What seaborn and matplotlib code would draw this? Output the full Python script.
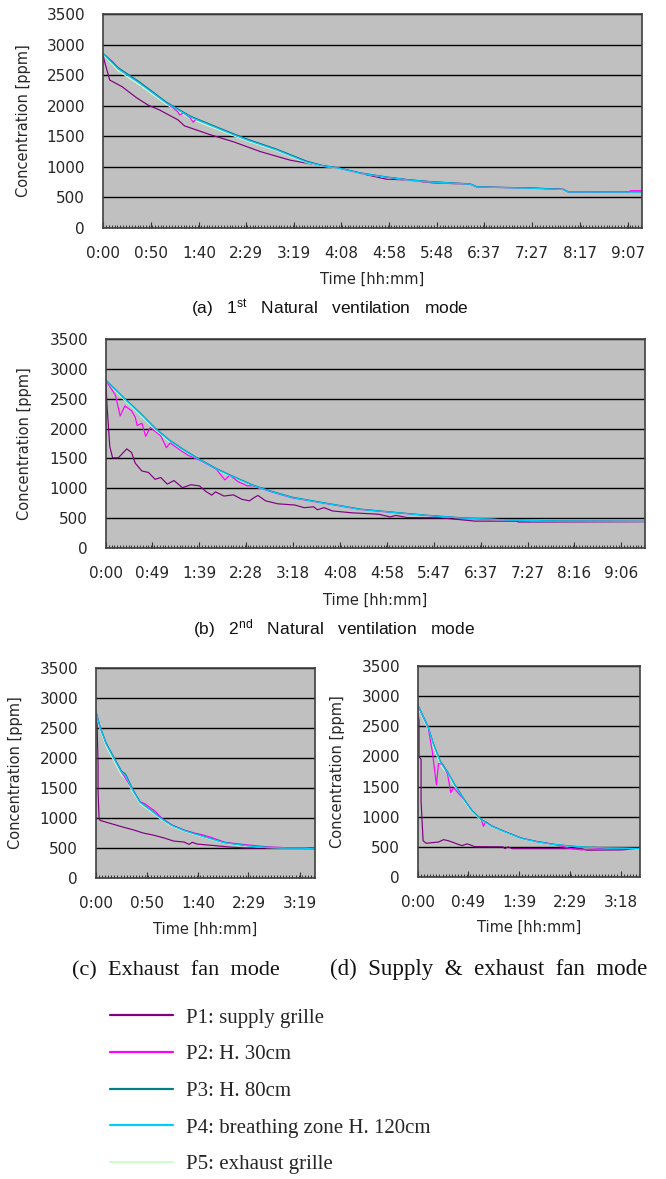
import matplotlib
matplotlib.use("Agg")
import matplotlib.pyplot as plt
import seaborn as sns
from matplotlib.ticker import MultipleLocator

W, H = 666, 1179

# ---- series names / colours
names = ["P1: supply grille", "P2: H. 30cm", "P3: H. 80cm",
         "P4: breathing zone H. 120cm", "P5: exhaust grille"]
colors = ["#800080", "#ff00ff", "#008080", "#00ccff", "#ccffcc"]
zorders = [2.1, 2.3, 2.4, 2.5, 2.2]

# ---- x tick labels (minutes -> hh:mm)
a_ticks = [0, 50, 100, 149, 199, 248, 298, 348, 397, 447, 497, 547]
a_labels = ["0:00", "0:50", "1:40", "2:29", "3:19", "4:08", "4:58", "5:48", "6:37", "7:27", "8:17", "9:07"]
b_ticks = [0, 49, 99, 148, 198, 248, 298, 347, 397, 447, 496, 546]
b_labels = ["0:00", "0:49", "1:39", "2:28", "3:18", "4:08", "4:58", "5:47", "6:37", "7:27", "8:16", "9:06"]
c_ticks = [0, 50, 100, 149, 199]
c_labels = ["0:00", "0:50", "1:40", "2:29", "3:19"]
d_ticks = [0, 49, 99, 149, 198]
d_labels = ["0:00", "0:49", "1:39", "2:29", "3:18"]

# ---- (a) 1st natural ventilation
a_t1 = [0, 2, 7, 20, 35, 47, 59, 78, 85, 113, 136, 164, 195, 216, 246, 268, 295, 317, 343, 383, 390, 445, 480, 485, 546, 562]
a_p1 = [2830, 2700, 2420, 2310, 2130, 2010, 1930, 1770, 1670, 1520, 1410, 1250, 1110, 1050, 975, 895, 800, 785, 740, 715, 670, 650, 630, 590, 590, 590]
a_t2 = [0, 10, 16, 38, 66, 78, 80, 84, 91, 94, 97, 129, 150, 181, 212, 228, 246, 268, 295, 317, 343, 383, 390, 445, 480, 485, 548, 550, 562]
a_p2 = [2850, 2720, 2610, 2380, 2050, 1900, 1850, 1880, 1800, 1730, 1780, 1580, 1450, 1280, 1090, 1020, 980, 900, 830, 790, 755, 720, 670, 655, 630, 590, 590, 610, 610]
a_t = [0, 16, 38, 66, 91, 129, 150, 181, 212, 228, 246, 268, 295, 317, 343, 383, 390, 445, 480, 485, 562]
a_p3 = [2860, 2620, 2390, 2060, 1830, 1585, 1455, 1290, 1095, 1025, 982, 902, 836, 792, 756, 720, 672, 656, 632, 592, 592]
a_p4 = [2850, 2600, 2370, 2045, 1815, 1570, 1440, 1276, 1080, 1020, 978, 898, 832, 788, 752, 718, 670, 652, 628, 590, 588]
a_p5 = [2840, 2570, 2340, 2020, 1790, 1550, 1425, 1262, 1070, 1012, 972, 894, 828, 785, 750, 716, 668, 650, 626, 588, 586]

# ---- (b) 2nd natural ventilation
b_t1 = [0, 1, 4, 7, 13, 22, 27, 31, 38, 45, 52, 58, 65, 72, 81, 90, 99, 106, 112, 116, 125, 135, 144, 152, 157, 161, 169, 182, 200, 210, 220, 224, 231, 240, 260, 289, 301, 307, 319, 355, 391, 435, 437, 571]
b_p1 = [2750, 2400, 1700, 1510, 1510, 1660, 1600, 1420, 1290, 1265, 1150, 1180, 1070, 1130, 1010, 1060, 1040, 945, 885, 940, 870, 890, 815, 790, 845, 880, 790, 740, 720, 675, 690, 640, 675, 620, 590, 565, 520, 545, 510, 505, 450, 450, 435, 440]
b_t2 = [0, 10, 15, 20, 27, 31, 33, 38, 42, 47, 52, 58, 64, 68, 75, 86, 101, 117, 126, 131, 140, 150, 155, 175, 197, 222, 249, 269, 300, 339, 379, 429, 480, 500, 505, 571]
b_p2 = [2800, 2560, 2210, 2380, 2300, 2190, 2050, 2090, 1870, 2020, 1950, 1880, 1680, 1760, 1680, 1560, 1455, 1315, 1140, 1220, 1110, 1040, 1045, 940, 840, 772, 700, 645, 600, 545, 499, 466, 449, 449, 449, 445]
b_t = [0, 20, 36, 52, 67, 86, 101, 117, 132, 155, 175, 197, 222, 249, 269, 300, 339, 379, 429, 480, 571]
b_p3 = [2810, 2500, 2265, 2010, 1810, 1610, 1470, 1330, 1218, 1058, 952, 852, 782, 708, 652, 606, 550, 503, 470, 452, 447]
b_p4 = [2800, 2490, 2255, 2000, 1800, 1600, 1460, 1320, 1210, 1050, 945, 845, 776, 703, 647, 602, 546, 500, 467, 450, 445]
b_p5 = [2790, 2470, 2230, 1975, 1780, 1585, 1448, 1310, 1200, 1042, 938, 840, 772, 700, 645, 600, 545, 499, 466, 449, 444]

# ---- (c) exhaust fan
c_t1 = [0, 1, 2, 2, 3, 4, 16, 26, 37, 46, 56, 66, 76, 86, 91, 94, 99, 116, 131, 147, 214]
c_p1 = [2760, 2600, 1900, 1450, 1000, 960, 900, 850, 800, 750, 715, 670, 615, 600, 560, 595, 565, 540, 515, 500, 500]
c_t2 = [0, 4, 10, 17, 25, 36, 43, 48, 58, 64, 74, 86, 96, 103, 112, 126, 146, 167, 186, 214]
c_p2 = [2770, 2515, 2235, 2015, 1765, 1465, 1270, 1235, 1110, 1000, 885, 800, 750, 725, 680, 595, 555, 520, 505, 485]
c_t = [0, 4, 10, 17, 25, 29, 36, 43, 54, 64, 74, 86, 96, 109, 126, 146, 167, 186, 205, 214]
c_p3 = [2770, 2520, 2245, 2025, 1780, 1730, 1475, 1270, 1128, 992, 880, 795, 740, 674, 590, 543, 512, 502, 496, 487]
c_p4 = [2760, 2510, 2230, 2010, 1760, 1700, 1460, 1260, 1120, 985, 875, 790, 735, 670, 585, 540, 510, 500, 495, 485]
c_p5 = [2740, 2480, 2190, 1970, 1710, 1650, 1430, 1240, 1100, 970, 862, 782, 727, 662, 580, 535, 507, 498, 494, 484]

# ---- (d) supply & exhaust fan
d_t1 = [0, 1, 1, 3, 3, 5, 8, 20, 25, 30, 38, 43, 48, 53, 55, 83, 85, 88, 92, 160, 165, 200, 217]
d_p1 = [2700, 2600, 2000, 1950, 1250, 600, 560, 580, 620, 600, 550, 520, 550, 520, 505, 500, 470, 500, 470, 470, 445, 450, 480]
d_t2 = [0, 10, 14, 18, 20, 24, 29, 32, 35, 38, 46, 53, 62, 64, 66, 72, 86, 101, 116, 132, 150, 160, 170, 186, 217]
d_p2 = [2840, 2470, 2080, 1530, 1880, 1870, 1700, 1400, 1480, 1420, 1260, 1095, 950, 840, 920, 845, 745, 645, 590, 545, 470, 450, 460, 485, 475]
d_t = [0, 10, 15, 22, 29, 36, 46, 53, 62, 72, 86, 101, 116, 132, 157, 186, 217]
d_p3 = [2850, 2490, 2215, 1915, 1742, 1532, 1265, 1098, 956, 846, 745, 645, 588, 543, 502, 482, 472]
d_p4 = [2840, 2480, 2200, 1900, 1730, 1520, 1255, 1090, 950, 840, 740, 640, 585, 540, 500, 480, 470]
d_p5 = [2820, 2440, 2160, 1860, 1700, 1495, 1235, 1075, 940, 832, 735, 636, 582, 538, 498, 478, 468]

sns.set_style("white")
plt.rcParams["font.family"] = ["DejaVu Sans"]
plt.rcParams["mathtext.fontset"] = "custom"
plt.rcParams["mathtext.rm"] = "Liberation Sans"
plt.rcParams["mathtext.it"] = "Liberation Sans:italic"

fig = plt.figure(figsize=(W / 100, H / 100), dpi=100)


def add_axes(left, top, right, bottom):
    # pixel box -> figure fraction
    return fig.add_axes([left / W, 1 - bottom / H, (right - left) / W, (bottom - top) / H])


def draw_panel(ax, series, ticks, labels, xmax, ylab_x, xlab_y):
    ax.set_facecolor("#c0c0c0")
    for i, (t, v) in enumerate(series):
        sns.lineplot(x=t, y=v, ax=ax, color=colors[i], lw=0.85, sort=False,
                     estimator=None, errorbar=None, zorder=zorders[i], label=names[i])
    if ax.get_legend() is not None:
        ax.get_legend().remove()
    ax.set_xlim(0, xmax)
    ax.set_ylim(0, 3500)
    ax.set_yticks(range(0, 3501, 500))
    ax.set_xticks(ticks)
    ax.set_xticklabels(labels)
    ax.xaxis.set_minor_locator(MultipleLocator(3))
    ax.set_axisbelow(True)
    ax.yaxis.grid(True, color="black", linewidth=1.0)
    ax.xaxis.grid(False)
    ax.tick_params(axis="x", which="both", bottom=True)
    ax.tick_params(axis="x", which="major", direction="in", length=4, width=0.8,
                   color="#333333", pad=13, labelsize=11, labelcolor="#262626")
    ax.tick_params(axis="x", which="minor", direction="in", length=2.5, width=0.7, color="#333333")
    ax.tick_params(axis="y", length=0, pad=13, labelsize=11, labelcolor="#262626")
    for s in ax.spines.values():
        s.set_color("#404040")
        s.set_linewidth(1.2)
    ax.set_ylabel("Concentration [ppm]", fontsize=10.5, color="#262626")
    ax.set_xlabel("Time [hh:mm]", fontsize=10.5, color="#262626")
    ax.yaxis.set_label_coords(ylab_x, 0.5)
    ax.xaxis.set_label_coords(0.5, xlab_y)


ax_a = add_axes(103, 14, 642, 228)
draw_panel(ax_a, [(a_t1, a_p1), (a_t2, a_p2), (a_t, a_p3), (a_t, a_p4), (a_t, a_p5)],
           a_ticks, a_labels, 562, -0.134, -0.206)

ax_b = add_axes(106, 339, 645, 548)
draw_panel(ax_b, [(b_t1, b_p1), (b_t2, b_p2), (b_t, b_p3), (b_t, b_p4), (b_t, b_p5)],
           b_ticks, b_labels, 571, -0.137, -0.212)

ax_c = add_axes(96, 668, 315, 878)
draw_panel(ax_c, [(c_t1, c_p1), (c_t2, c_p2), (c_t, c_p3), (c_t, c_p4), (c_t, c_p5)],
           c_ticks, c_labels, 214, -0.333, -0.21)

ax_d = add_axes(418, 666, 640, 877)
draw_panel(ax_d, [(d_t1, d_p1), (d_t2, d_p2), (d_t, d_p3), (d_t, d_p4), (d_t, d_p5)],
           d_ticks, d_labels, 217, -0.329, -0.204)

# captions
fig.text(191 / W, 1 - 314 / H, r"(a)   1$^{\rm st}$   Natural   ventilation   mode",
         ha="left", va="baseline", fontsize=12.5, family="Liberation Sans", color="#111111")
fig.text(193 / W, 1 - 634 / H, r"(b)   2$^{\rm nd}$   Natural   ventilation   mode",
         ha="left", va="baseline", fontsize=12.5, family="Liberation Sans", color="#111111")
fig.text(72 / W, 1 - 975 / H, "(c)  Exhaust  fan  mode",
         ha="left", va="baseline", fontsize=16, family="Liberation Serif", color="#111111")
fig.text(330 / W, 1 - 975 / H, "(d)  Supply  &  exhaust  fan  mode",
         ha="left", va="baseline", fontsize=16.5, family="Liberation Serif", color="#111111")

# legend below the panels
handles, labels = ax_a.get_legend_handles_labels()
leg = fig.legend(handles, labels, loc="upper left", bbox_to_anchor=(110 / W, 1 - 1008 / H),
                 frameon=False, prop={"family": "Liberation Serif", "size": 15},
                 handlelength=3.0, handletextpad=0.67, labelspacing=0.82,
                 borderpad=0, borderaxespad=0)
for line in leg.get_lines():
    line.set_linewidth(1.6)

fig.savefig("out.png", dpi=100)
